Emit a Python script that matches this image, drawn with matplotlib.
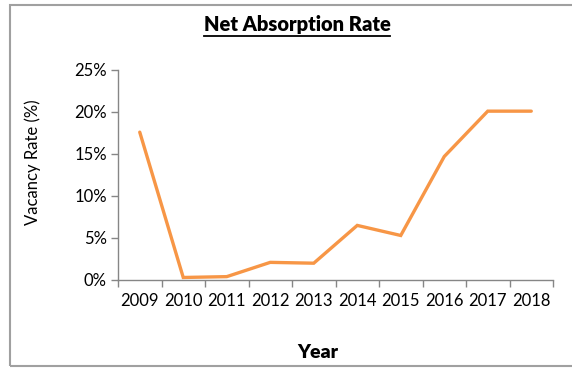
import matplotlib
matplotlib.use("Agg")
import matplotlib.pyplot as plt
from matplotlib.ticker import FixedLocator, FuncFormatter
from matplotlib.lines import Line2D
from matplotlib.patches import Rectangle

years = ["2009", "2010", "2011", "2012", "2013", "2014", "2015", "2016", "2017", "2018"]
vacancy = [17.6, 0.3, 0.4, 2.1, 2.0, 6.5, 5.3, 14.7, 20.1, 20.1]
yticks = [0, 5, 10, 15, 20, 25]

plt.rcParams['font.family'] = ['Lato', 'DejaVu Sans']
axis_gray = "#868686"

fig = plt.figure(figsize=(5.72, 3.69), dpi=100)
ax = fig.add_axes([118/572, 1-280/369, (553-118)/572, (280-70)/369])

x = list(range(len(years)))
ax.plot(x, vacancy, color="#F79646", linewidth=2.4, solid_capstyle="round", solid_joinstyle="miter")

ax.set_xlim(-0.5, len(years) - 0.5)
ax.set_ylim(0, 25)
ax.set_yticks(yticks)
ax.yaxis.set_major_formatter(FuncFormatter(lambda v, p: f"{int(v)}%"))

ax.xaxis.set_major_locator(FixedLocator([i - 0.5 for i in range(len(years) + 1)]))
ax.set_xticklabels([])
ax.set_xticks(x, minor=True)
ax.set_xticklabels(years, minor=True)
ax.tick_params(axis='x', which='minor', length=0, pad=9, labelsize=12)
ax.tick_params(axis='x', which='major', length=5, color=axis_gray, width=1)
ax.tick_params(axis='y', length=5, color=axis_gray, width=1, labelsize=12, pad=3)

for s in ['top', 'right']:
    ax.spines[s].set_visible(False)
for s in ['left', 'bottom']:
    ax.spines[s].set_color(axis_gray)
    ax.spines[s].set_linewidth(1)

fig.text(33/572, 1-162/369, "Vacancy Rate (%)", rotation=90, ha='center', va='center', fontsize=12)
fig.text(318/572, 1-353/369, "Year", ha='center', va='center', fontsize=14, fontweight='heavy')
title = fig.text(297/572, 1-25/369, "Net Absorption Rate", ha='center', va='center', fontsize=14.5, fontweight='heavy')

fig.canvas.draw()
bb = title.get_window_extent().transformed(fig.transFigure.inverted())
uy = bb.y0 - 1.0/369
fig.add_artist(Line2D([bb.x0, bb.x1], [uy, uy], transform=fig.transFigure, color='black', linewidth=1.3))

fig.add_artist(Rectangle((10/572, 3/369), 1.2, 1 - 8/369, transform=fig.transFigure,
                         fill=False, edgecolor="#A0A0A0", linewidth=1.5))

fig.savefig("out.png", dpi=100)
